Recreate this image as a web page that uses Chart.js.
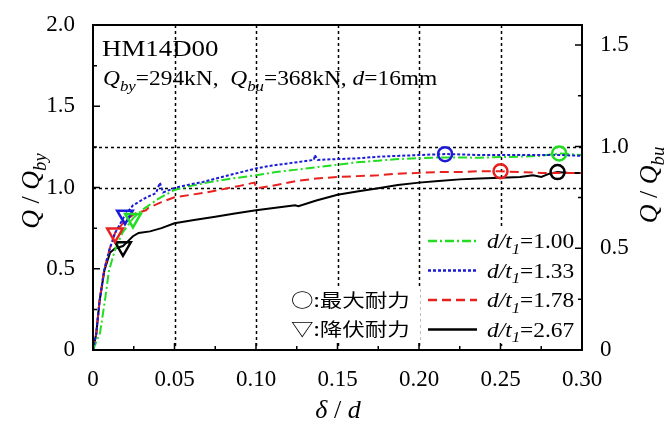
<!DOCTYPE html>
<html>
<head>
<meta charset="utf-8">
<script src="https://cdn.jsdelivr.net/npm/chart.js@4.4.1/dist/chart.umd.min.js"></script>
<style>
  body { margin: 0; background: #fff; }
  #wrap { width: 670px; height: 426px; }
</style>
</head>
<body>
<div id="wrap"><canvas id="curveChart" width="670" height="426"></canvas></div>
<script>
// d/t1 = 1.00 (green)
const greenX = [0, 0.0043, 0.0074, 0.0098, 0.0135, 0.018, 0.0245, 0.030, 0.040, 0.050, 0.060, 0.070, 0.085, 0.100, 0.112, 0.125, 0.137, 0.150, 0.162, 0.175, 0.187, 0.200, 0.212, 0.225, 0.237, 0.250, 0.262, 0.275, 0.286, 0.293, 0.300];
const greenY = [0, 0.105, 0.31, 0.49, 0.615, 0.72, 0.81, 0.86, 0.93, 0.985, 1.01, 1.03, 1.055, 1.075, 1.095, 1.11, 1.125, 1.14, 1.155, 1.165, 1.175, 1.18, 1.185, 1.185, 1.183, 1.187, 1.19, 1.195, 1.21, 1.205, 1.20];
// d/t1 = 1.33 (blue)
const blueX = [0, 0.002, 0.004, 0.0068, 0.010, 0.0135, 0.0196, 0.0245, 0.032, 0.0387, 0.041, 0.043, 0.051, 0.060, 0.0675, 0.084, 0.101, 0.110, 0.121, 0.1356, 0.136, 0.138, 0.150, 0.163, 0.176, 0.188, 0.2006, 0.216, 0.237, 0.262, 0.2865, 0.300];
const blueY = [0, 0.10, 0.30, 0.49, 0.615, 0.72, 0.83, 0.89, 0.935, 0.966, 1.03, 0.97, 1.00, 1.02, 1.034, 1.077, 1.12, 1.135, 1.15, 1.17, 1.20, 1.17, 1.175, 1.18, 1.19, 1.195, 1.20, 1.206, 1.20, 1.20, 1.20, 1.195];
// d/t1 = 1.78 (red)
const redX = [0, 0.002, 0.004, 0.0068, 0.010, 0.0135, 0.020, 0.026, 0.0325, 0.034, 0.042, 0.050, 0.060, 0.070, 0.080, 0.090, 0.099, 0.1005, 0.110, 0.125, 0.137, 0.150, 0.162, 0.175, 0.187, 0.200, 0.212, 0.225, 0.237, 0.250, 0.262, 0.275, 0.287, 0.300];
const redY = [0, 0.10, 0.30, 0.49, 0.615, 0.72, 0.80, 0.84, 0.86, 0.875, 0.91, 0.94, 0.955, 0.97, 0.99, 1.01, 1.03, 0.995, 1.01, 1.04, 1.055, 1.065, 1.07, 1.075, 1.085, 1.09, 1.095, 1.095, 1.10, 1.10, 1.095, 1.09, 1.09, 1.09];
// d/t1 = 2.67 (black)
const blackX = [0, 0.002, 0.004, 0.007, 0.0105, 0.0135, 0.0184, 0.0215, 0.0245, 0.028, 0.035, 0.042, 0.050, 0.062, 0.075, 0.087, 0.100, 0.112, 0.124, 0.126, 0.137, 0.150, 0.162, 0.175, 0.187, 0.200, 0.212, 0.225, 0.237, 0.250, 0.262, 0.270, 0.275, 0.280, 0.285, 0.292, 0.300];
const blackY = [0, 0.10, 0.30, 0.49, 0.60, 0.625, 0.64, 0.67, 0.70, 0.72, 0.73, 0.75, 0.78, 0.80, 0.82, 0.84, 0.86, 0.875, 0.89, 0.885, 0.92, 0.955, 0.975, 0.995, 1.015, 1.03, 1.04, 1.05, 1.055, 1.06, 1.065, 1.075, 1.065, 1.085, 1.095, 1.09, 1.09];

// order: green, blue, red, black
const seriesNames = ['1.00', '1.33', '1.78', '2.67'];
const seriesColors = ['#22dd22', '#1a1ad8', '#e8201e', '#000000'];
const seriesDash = [[9, 3, 2, 3], [3, 2], [9, 5], []];
const peakX = [0.286, 0.216, 0.250, 0.285];
const peakY = [1.21, 1.205, 1.10, 1.095];
const yieldX = [0.0245, 0.0196, 0.0135, 0.0184];
const yieldY = [0.81, 0.83, 0.72, 0.635];

const xTicks = [0, 0.05, 0.10, 0.15, 0.20, 0.25, 0.30];
const yTicks = [0, 0.5, 1.0, 1.5, 2.0];
const y2Ticks = [0, 0.5, 1.0, 1.5];
const Qby = 294, Qbu = 368;

const SERIF = '"Liberation Serif", "Times New Roman", serif';
const JP = '"Noto Sans CJK JP", sans-serif';
const STRETCH = 1.17; // the annotation text in the figure is a bit wide

function pts(xs, ys) { return xs.map((x, i) => ({ x: x, y: ys[i] })); }

const lineSets = [[greenX, greenY], [blueX, blueY], [redX, redY], [blackX, blackY]];

const datasets = [];
lineSets.forEach((s, i) => {
  datasets.push({
    data: pts(s[0], s[1]),
    showLine: true,
    borderColor: seriesColors[i],
    borderWidth: 2,
    borderDash: seriesDash[i],
    pointRadius: 0,
    tension: 0,
    order: [3, 2, 4, 5][i]
  });
});
seriesColors.forEach((c, i) => {
  datasets.push({
    data: [{ x: peakX[i], y: peakY[i] }],
    showLine: false,
    pointStyle: 'circle',
    pointRadius: 7,
    pointBorderWidth: 2.5,
    pointBorderColor: c,
    pointBackgroundColor: 'rgba(255,255,255,0)',
    order: 1
  });
  datasets.push({
    data: [{ x: yieldX[i], y: yieldY[i] }],
    showLine: false,
    pointStyle: 'triangle',
    pointRotation: 180,
    pointRadius: 9,
    pointBorderWidth: 2.5,
    pointBorderColor: c,
    pointBackgroundColor: 'rgba(255,255,255,0)',
    order: 1
  });
});

// draws mixed italic / subscript text, baseline at y
function richWidth(ctx, parts, size) {
  let w = 0;
  parts.forEach(p => {
    const s = p.sub ? size * 0.72 : size;
    ctx.font = (p.it ? 'italic ' : '') + s + 'px ' + SERIF;
    w += ctx.measureText(p.t).width;
  });
  return w;
}
function drawRich(ctx, parts, x, y, size, align, k) {
  k = k || 1;
  let cx = 0;
  if (align === 'center') cx = -richWidth(ctx, parts, size) / 2;
  ctx.save();
  ctx.translate(x, y);
  ctx.scale(k, 1);
  ctx.textAlign = 'left';
  ctx.textBaseline = 'alphabetic';
  parts.forEach(p => {
    const s = p.sub ? size * 0.72 : size;
    ctx.font = (p.it ? 'italic ' : '') + s + 'px ' + SERIF;
    ctx.fillText(p.t, cx, p.sub ? size * 0.28 : 0);
    cx += ctx.measureText(p.t).width;
  });
  ctx.restore();
}

const decor = {
  id: 'decor',
  beforeDatasetsDraw(chart) {
    const ctx = chart.ctx, a = chart.chartArea;
    const sx = chart.scales.x, sy = chart.scales.y, sy2 = chart.scales.y2;
    ctx.save();
    ctx.strokeStyle = '#000';
    ctx.lineWidth = 1.5;
    ctx.setLineDash([3, 3]);
    [0.05, 0.10, 0.15, 0.20, 0.25].forEach(v => {
      const px = Math.round(sx.getPixelForValue(v)) + 0.5;
      ctx.beginPath(); ctx.moveTo(px, a.top); ctx.lineTo(px, a.bottom); ctx.stroke();
    });
    [sy.getPixelForValue(1.0), sy2.getPixelForValue(1.0)].forEach(py => {
      py = Math.round(py) + 0.5;
      ctx.beginPath(); ctx.moveTo(a.left, py); ctx.lineTo(a.right, py); ctx.stroke();
    });
    ctx.setLineDash([]);
    // white backgrounds behind the legends
    ctx.fillStyle = '#fff';
    ctx.fillRect(424, 228, 156, 116);
    ctx.fillRect(288, 286, 132, 56);
    ctx.restore();
  },
  afterDatasetsDraw(chart) {
    const ctx = chart.ctx, a = chart.chartArea;
    const sx = chart.scales.x, sy = chart.scales.y, sy2 = chart.scales.y2;
    ctx.save();
    ctx.strokeStyle = '#000';
    ctx.lineWidth = 2;
    ctx.strokeRect(a.left, a.top, a.right - a.left, a.bottom - a.top);
    ctx.lineWidth = 1.5;
    ctx.beginPath();
    for (let v = 0; v <= 0.3001; v += 0.025) {
      const px = sx.getPixelForValue(v);
      const len = Math.abs(v / 0.05 - Math.round(v / 0.05)) < 1e-6 ? 7 : 4;
      ctx.moveTo(px, a.bottom); ctx.lineTo(px, a.bottom - len);
    }
    for (let v = 0; v <= 2.0001; v += 0.25) {
      const py = sy.getPixelForValue(v);
      const len = Math.abs(v / 0.5 - Math.round(v / 0.5)) < 1e-6 ? 7 : 4;
      ctx.moveTo(a.left, py); ctx.lineTo(a.left + len, py);
    }
    for (let v = 0; v <= 1.5001; v += 0.25) {
      const py = sy2.getPixelForValue(v);
      const len = Math.abs(v / 0.5 - Math.round(v / 0.5)) < 1e-6 ? 7 : 4;
      ctx.moveTo(a.right, py); ctx.lineTo(a.right - len, py);
    }
    ctx.stroke();

    ctx.fillStyle = '#000';
    // specimen labels
    drawRich(ctx, [{ t: 'HM14D00' }], 102, 56, 24, 'left', 1.12);
    drawRich(ctx, [
      { t: 'Q', it: true }, { t: 'by', it: true, sub: true }, { t: '=294kN,  ' },
      { t: 'Q', it: true }, { t: 'bu', it: true, sub: true }, { t: '=368kN, ' },
      { t: 'd', it: true }, { t: '=16mm' }
    ], 103, 85, 20, 'left', STRETCH);

    // series legend
    seriesNames.forEach((n, i) => {
      const ly = 241 + i * 29.5;
      ctx.strokeStyle = seriesColors[i];
      ctx.lineWidth = 2.5;
      ctx.setLineDash(seriesDash[i]);
      ctx.beginPath(); ctx.moveTo(428, ly); ctx.lineTo(477, ly); ctx.stroke();
      ctx.setLineDash([]);
      drawRich(ctx, [{ t: 'd', it: true }, { t: '/', it: true }, { t: 't', it: true },
        { t: '1', it: true, sub: true }, { t: '=' + n }], 487, ly + 7, 20, 'left', STRETCH);
    });
    ctx.save();
    ctx.translate(291, 0);
    ctx.scale(1.25, 1);
    ctx.font = '18px ' + JP;
    ctx.textAlign = 'left';
    ctx.textBaseline = 'middle';
    ctx.fillText('○:最大耐力', 0, 300);
    ctx.fillText('▽:降伏耐力', 0, 329);
    ctx.restore();

    // axis titles
    drawRich(ctx, [{ t: 'δ', it: true }, { t: ' / ' }, { t: 'd', it: true }], 338, 418, 26, 'center');
    ctx.save();
    ctx.translate(30, 191);
    ctx.rotate(-Math.PI / 2);
    drawRich(ctx, [{ t: 'Q', it: true }, { t: ' / ' }, { t: 'Q', it: true }, { t: 'by', it: true, sub: true }], 0, 9, 26, 'center');
    ctx.restore();
    ctx.save();
    ctx.translate(648, 185);
    ctx.rotate(-Math.PI / 2);
    drawRich(ctx, [{ t: 'Q', it: true }, { t: ' / ' }, { t: 'Q', it: true }, { t: 'bu', it: true, sub: true }], 0, 9, 26, 'center');
    ctx.restore();
    ctx.restore();
  }
};

const tickFont = { family: SERIF, size: 23 };
function fmt(v, d) { return v === 0 ? '0' : v.toFixed(d); }

new Chart(document.getElementById('curveChart'), {
  type: 'scatter',
  data: { datasets: datasets },
  options: {
    responsive: false,
    animation: false,
    layout: { padding: { top: 25, left: 0, right: 0, bottom: 0 } },
    plugins: { legend: { display: false }, tooltip: { enabled: false } },
    scales: {
      x: {
        type: 'linear', min: 0, max: 0.3,
        afterBuildTicks: s => { s.ticks = xTicks.map(v => ({ value: v })); },
        afterFit: s => { s.height = 76; },
        grid: { display: false },
        border: { display: false },
        ticks: { color: '#000', font: tickFont, padding: 8, maxRotation: 0, callback: v => fmt(v, 2) }
      },
      y: {
        type: 'linear', position: 'left', min: 0, max: 2.0,
        afterBuildTicks: s => { s.ticks = yTicks.map(v => ({ value: v })); },
        afterFit: s => { s.width = 93; },
        grid: { display: false },
        border: { display: false },
        ticks: { color: '#000', font: tickFont, padding: 10, callback: v => fmt(v, 1) }
      },
      y2: {
        type: 'linear', position: 'right', min: 0, max: 2.0 * Qby / Qbu,
        afterBuildTicks: s => { s.ticks = y2Ticks.map(v => ({ value: v })); },
        afterFit: s => { s.width = 88; },
        grid: { display: false },
        border: { display: false },
        ticks: { color: '#000', font: tickFont, padding: 10, callback: v => fmt(v, 1) }
      }
    }
  },
  plugins: [decor]
});
</script>
</body>
</html>
